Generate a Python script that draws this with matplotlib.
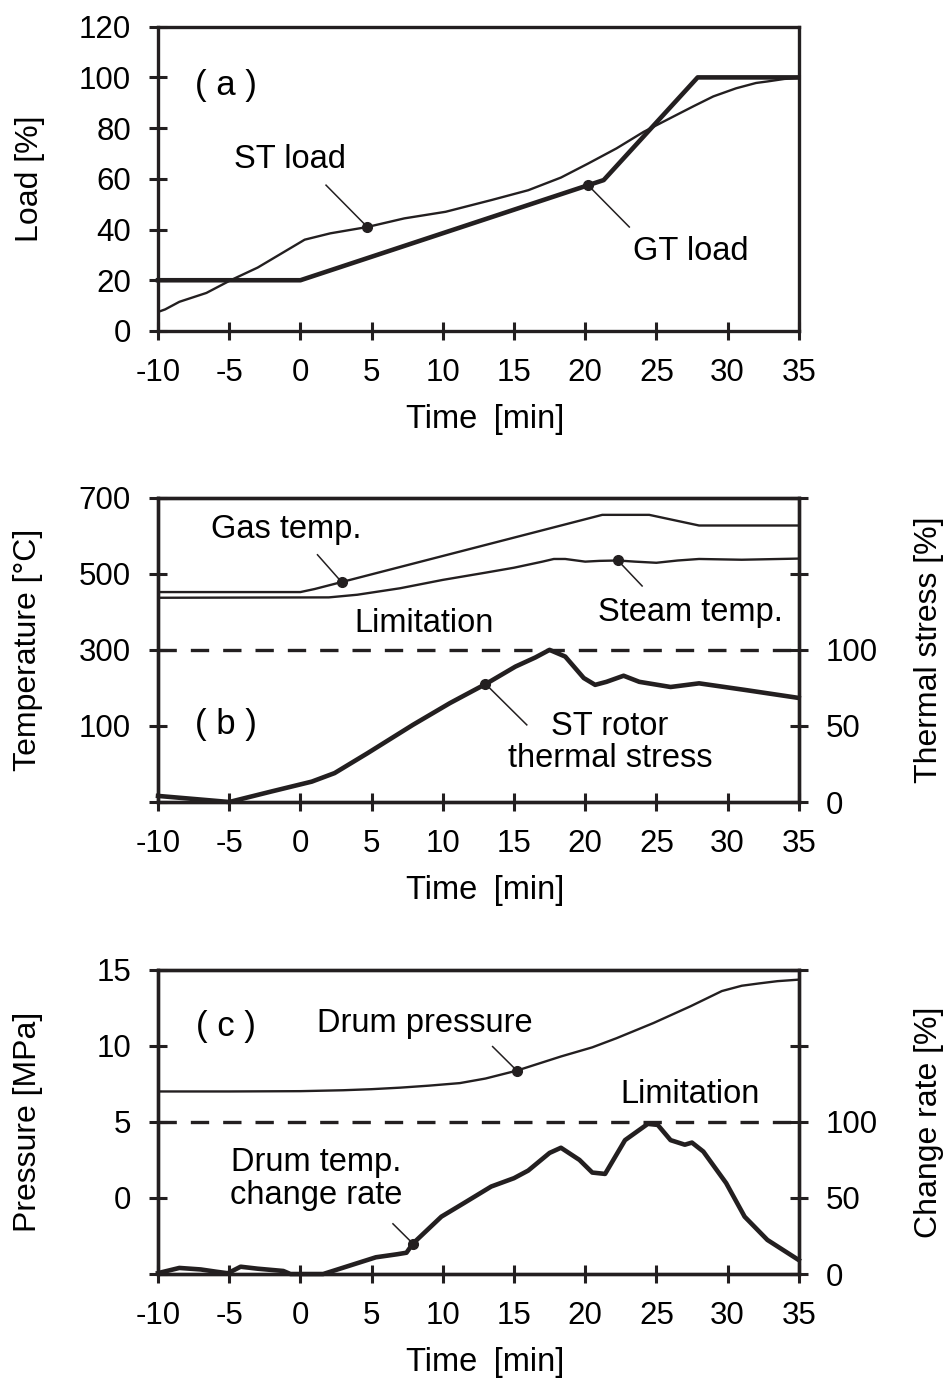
import numpy as np
import matplotlib
matplotlib.use("Agg")
import matplotlib.pyplot as plt

plt.rcParams['font.family'] = ['Liberation Sans', 'DejaVu Sans']
plt.rcParams['font.size'] = 22.5
plt.rcParams['axes.unicode_minus'] = False

INK = '#231f20'
TXT = 23.5

# (a) load
t_gt = [-10, 0, 21.3, 27.9, 35]
gt_load = [20, 20, 59.5, 100, 100]
t_st = [-10, -9.5, -8.5, -6.6, -4.9, -3, -1.2, 0.3, 2.1, 4.7, 7.3, 10.2, 13.4, 16,
        18.3, 20.2, 22.2, 24.1, 26, 27.6, 29, 30.6, 32, 32.8, 34, 35]
st_load = [7.5, 8.5, 11.5, 15, 20, 25, 31, 36, 38.5, 41, 44.4, 47, 51.6, 55.5,
           60.5, 66, 72, 78.5, 84, 88.6, 92.5, 95.7, 97.8, 98.4, 99.4, 99.7]

# (b) temperatures and rotor stress
t_gas = [-10, 0, 1, 21.2, 24.5, 28, 35]
gas_temp = [452, 452, 460, 655, 655, 627, 627]
t_steam = [-10, 2, 4, 7, 10, 13, 15, 17, 17.8, 18.6, 20, 21, 22.3, 23.5, 25, 26.5, 28, 31, 35]
steam_temp = [437, 438, 445, 462, 484, 503, 516, 532, 539, 539, 532, 534, 535, 532, 529,
              535, 539, 537, 540]
t_stress = [-10, -5, -2, 0.8, 2.4, 4.7, 7.9, 10.5, 13.1, 15.1, 16.5, 17.5, 18.6, 19.9,
            20.7, 21.5, 22.7, 23.8, 26, 28, 31.2, 35]
stress = [4, 0, 7, 13.4, 19, 32, 50.7, 65, 78, 89, 95, 100, 95.6, 81.5, 77, 79, 83, 79,
          75.6, 78, 73.7, 68.4]

# (c) drum
t_p = [-10, -5, 0, 3, 5, 7, 9, 11.2, 13, 15.2, 18.3, 20.5, 22.2, 24.8, 27.4, 29.6, 31,
       32.2, 33.5, 35]
drum_p = [7.0, 7.0, 7.02, 7.08, 7.15, 7.25, 7.38, 7.55, 7.85, 8.37, 9.3, 9.9, 10.5, 11.5,
          12.6, 13.6, 13.95, 14.1, 14.25, 14.35]
t_rate = [-10, -8.5, -7, -5.9, -5.1, -4.2, -3, -1.2, -0.7, 1.6, 5.3, 6.8, 7.45, 7.9, 9.9,
          11.5, 13.4, 15, 16, 17.5, 18.3, 19.6, 20.5, 21.4, 22.8, 24.4, 25.1, 26, 27, 27.5,
          28.3, 29.9, 31.2, 32.8, 35]
drum_rate = [0.6, 4, 3, 1.5, 0.5, 4.8, 3.5, 2, 0, 0, 11, 13, 14, 20, 37.7, 46.7, 57.5, 63,
             68, 79.6, 83, 75, 66.7, 65.8, 88, 98.7, 98, 88, 85, 86.4, 80.5, 59.8, 37.7,
             22.4, 9.2]

x_ticks = list(range(-10, 40, 5))

fig = plt.figure(figsize=(9.52, 13.83), dpi=100)
L, W, H = 0.166, 0.673, 0.2200
ax_a = fig.add_axes([L, 0.7607, W, H])
ax_b = fig.add_axes([L, 0.4201, W, H])
ax_c = fig.add_axes([L, 0.0788, W, H])

thin = dict(color=INK, lw=1.7, clip_on=False, solid_capstyle='butt')
thick = dict(color=INK, lw=3.3, clip_on=False, solid_joinstyle='round')
dash = dict(color=INK, lw=2.4, dashes=(5.5, 4.2))


def style(ax, right=False):
    for s in ax.spines.values():
        s.set_linewidth(2.4)
        s.set_color(INK)
    ax.tick_params(direction='inout', length=13, width=2.2, color=INK, pad=13,
                   right=right, top=False)
    ax.set_xlim(-10, 35)


def leader(ax, p0, p1):
    ax.plot([p0[0], p1[0]], [p0[1], p1[1]], color=INK, lw=1.1)
    ax.plot(*p1, 'o', color=INK, ms=7, clip_on=False)


def note(ax, x, y, s, **kw):
    ax.text(x, y, s, ha='center', va='center', fontsize=TXT, **kw)


def xlabel(ax):
    ax.set_xlabel('Time\u2002[min]', fontsize=TXT)
    ax.xaxis.set_label_coords(0.511, -0.292)
    ax.xaxis.label.set_va('center')


def ylabel(ax, text, x):
    ax.set_ylabel(text, fontsize=23)
    ax.yaxis.set_label_coords(x, 0.5)
    ax.yaxis.label.set_va('center')


def panel(ax, s, x, y):
    ax.text(x, y, s, ha='center', va='center', fontsize=25)


# ---- (a)
style(ax_a)
ax_a.plot(t_st, st_load, **thin)
ax_a.plot(t_gt, gt_load, **thick)
ax_a.set_ylim(0, 120)
ax_a.set_yticks(range(0, 121, 20))
ax_a.set_xticks(x_ticks)
leader(ax_a, (1.8, 57.5), (4.7, 41))
leader(ax_a, (23.1, 41), (20.2, 57.5))
note(ax_a, -0.7, 67.5, 'ST load')
note(ax_a, 27.4, 31.5, 'GT load')
panel(ax_a, '( a )', -5.2, 97)
xlabel(ax_a)
ylabel(ax_a, 'Load [%]', -0.200)

# ---- (b)
style(ax_b, right=True)
ax_b.plot(t_gas, gas_temp, **thin)
ax_b.plot(t_steam, steam_temp, **thin)
ax_b.set_ylim(-100, 700)
ax_b.set_yticks([-100, 100, 300, 500, 700])
ax_b.set_yticklabels(['', '100', '300', '500', '700'])
ax_b.set_xticks(x_ticks)
ax_b2 = ax_b.twinx()
style(ax_b2)
ax_b2.tick_params(left=False, right=True)
ax_b2.plot(t_stress, stress, **thick)
ax_b2.axhline(100, **dash)
ax_b2.set_ylim(0, 200)
ax_b2.set_yticks([0, 50, 100, 150, 200])
ax_b2.set_yticklabels(['0', '50', '100', '', ''])
leader(ax_b, (1.2, 550), (2.9, 478))
leader(ax_b, (24.0, 468), (22.3, 535))
leader(ax_b2, (15.9, 50.7), (13.0, 77.6))
note(ax_b, -1.0, 616, 'Gas temp.')
note(ax_b, 27.4, 397, 'Steam temp.')
note(ax_b, 8.65, 370, 'Limitation')
note(ax_b, 21.75, 56, 'ST rotor\nthermal stress', linespacing=1.05)
panel(ax_b, '( b )', -5.2, 103)
xlabel(ax_b)
ylabel(ax_b, 'Temperature [°C]', -0.203)
ax_b2.set_ylabel('Thermal stress [%]', fontsize=23)
ax_b2.yaxis.set_label_coords(1.204, 0.5)
ax_b2.yaxis.label.set_va('center')

# ---- (c)
style(ax_c, right=True)
ax_c.plot(t_p, drum_p, **thin)
ax_c.set_ylim(-5, 15)
ax_c.set_yticks([-5, 0, 5, 10, 15])
ax_c.set_yticklabels(['', '0', '5', '10', '15'])
ax_c.set_xticks(x_ticks)
ax_c2 = ax_c.twinx()
style(ax_c2)
ax_c2.tick_params(left=False, right=True)
ax_c2.plot(t_rate, drum_rate, **thick)
ax_c2.axhline(100, **dash)
ax_c2.set_ylim(0, 200)
ax_c2.set_yticks([0, 50, 100, 150, 200])
ax_c2.set_yticklabels(['0', '50', '100', '', ''])
leader(ax_c, (13.5, 9.95), (15.2, 8.37))
leader(ax_c2, (6.5, 33), (7.9, 20))
note(ax_c, 8.75, 11.5, 'Drum pressure')
note(ax_c, 27.4, 6.78, 'Limitation')
note(ax_c, 1.14, 1.25, 'Drum temp.\nchange rate', linespacing=1.05)
panel(ax_c, '( c )', -5.2, 11.3)
xlabel(ax_c)
ylabel(ax_c, 'Pressure [MPa]', -0.203)
ax_c2.set_ylabel('Change rate [%]', fontsize=23)
ax_c2.yaxis.set_label_coords(1.204, 0.5)
ax_c2.yaxis.label.set_va('center')

fig.savefig('out.png', dpi=100)
